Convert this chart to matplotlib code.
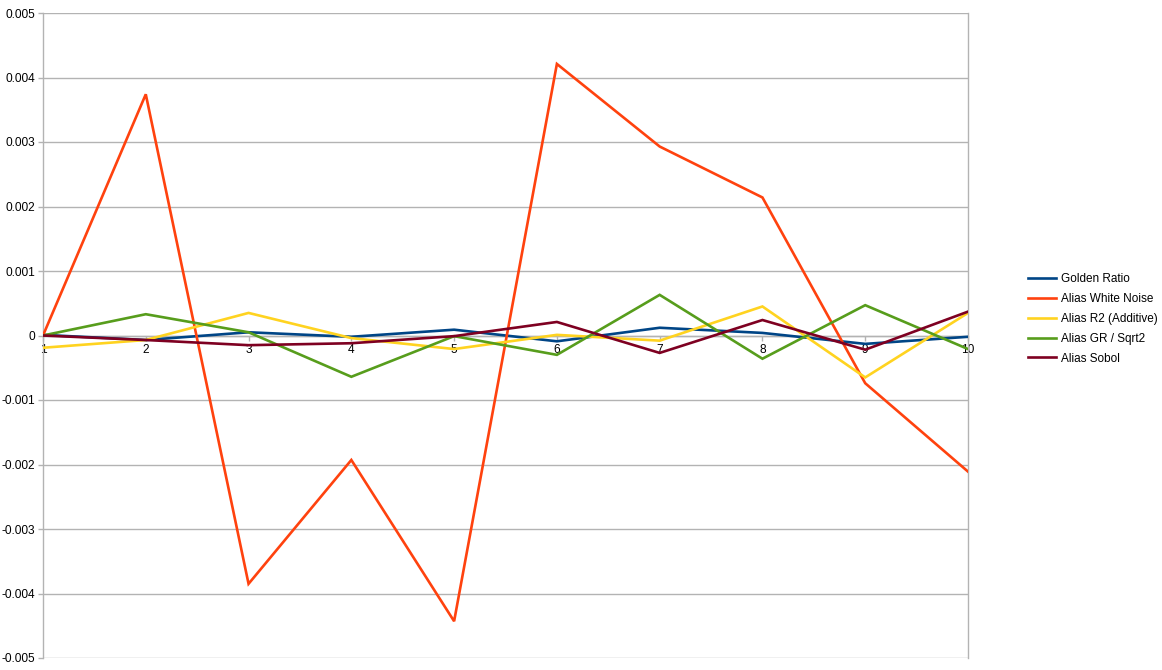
import matplotlib
matplotlib.use("Agg")
import matplotlib.pyplot as plt

x = [1, 2, 3, 4, 5, 6, 7, 8, 9, 10]
golden_ratio = [0.00001, -0.00007, 0.00005, -0.00002, 0.00009, -0.00009, 0.00012, 0.00004, -0.00013, -0.00002]
white_noise = [0.0, 0.00374, -0.00385, -0.00193, -0.00443, 0.00421, 0.00293, 0.00214, -0.00074, -0.00211]
r2_additive = [-0.00019, -0.00007, 0.00035, -0.00004, -0.00021, 0.00001, -0.00008, 0.00045, -0.00065, 0.00035]
gr_sqrt2 = [0.0, 0.00033, 0.00005, -0.00064, -0.00001, -0.0003, 0.00063, -0.00036, 0.00047, -0.00021]
sobol = [0.0, -0.00007, -0.00015, -0.00012, -0.00001, 0.00021, -0.00027, 0.00024, -0.00022, 0.00037]

labels = ["Golden Ratio", "Alias White Noise", "Alias R2 (Additive)", "Alias GR / Sqrt2", "Alias Sobol"]
colors = ["#004586", "#ff420e", "#ffd320", "#579d1c", "#7e0021"]
y_ticks = [-0.005, -0.004, -0.003, -0.002, -0.001, 0, 0.001, 0.002, 0.003, 0.004, 0.005]
y_tick_labels = ["-0.005", "-0.004", "-0.003", "-0.002", "-0.001", "0", "0.001", "0.002", "0.003", "0.004", "0.005"]

plt.rcParams['font.family'] = ['Liberation Sans', 'DejaVu Sans']

fig = plt.figure(figsize=(11.62, 6.70), dpi=100)
ax = fig.add_axes([43/1162, 1 - 658/670, (968-43)/1162, (658-13)/670])

series = [golden_ratio, white_noise, r2_additive, gr_sqrt2, sobol]
for s, lab, c in zip(series, labels, colors):
    ax.plot(x, s, color=c, lw=1.9, label=lab, solid_joinstyle='miter', zorder=3)

ax.set_xlim(1, 10)
ax.set_ylim(-0.005, 0.005)
ax.set_yticks(y_ticks)
ax.set_yticklabels(y_tick_labels, fontsize=8.6)
ax.yaxis.grid(True, color="#b3b3b3", lw=1)
ax.set_axisbelow(True)

for sp in ["top", "right"]:
    ax.spines[sp].set_visible(False)
ax.spines["left"].set_color("#b3b3b3")
ax.spines["left"].set_linewidth(1)
ax.spines["bottom"].set_position(("data", 0))
ax.spines["bottom"].set_color("#b3b3b3")
ax.spines["bottom"].set_linewidth(1)
ax.plot([10, 10], [-0.005, 0.005], color="#b3b3b3", lw=1, zorder=1, clip_on=False)

ax.tick_params(axis="y", length=3.6, color="#b3b3b3", width=1, pad=2, labelcolor="black")
ax.set_xticks(x)
ax.set_xticklabels([str(v) for v in x], fontsize=8.6)
ax.tick_params(axis="x", length=3.6, color="#b3b3b3", width=1, pad=2.5, labelcolor="black")

ax.legend(loc="upper left", bbox_to_anchor=(1022/1162, 1 - 267/670), bbox_transform=fig.transFigure,
          frameon=False, fontsize=8.5, handlelength=2.4, handletextpad=0.4, labelspacing=0.67,
          borderpad=0)

fig.savefig("out.png", dpi=100)
